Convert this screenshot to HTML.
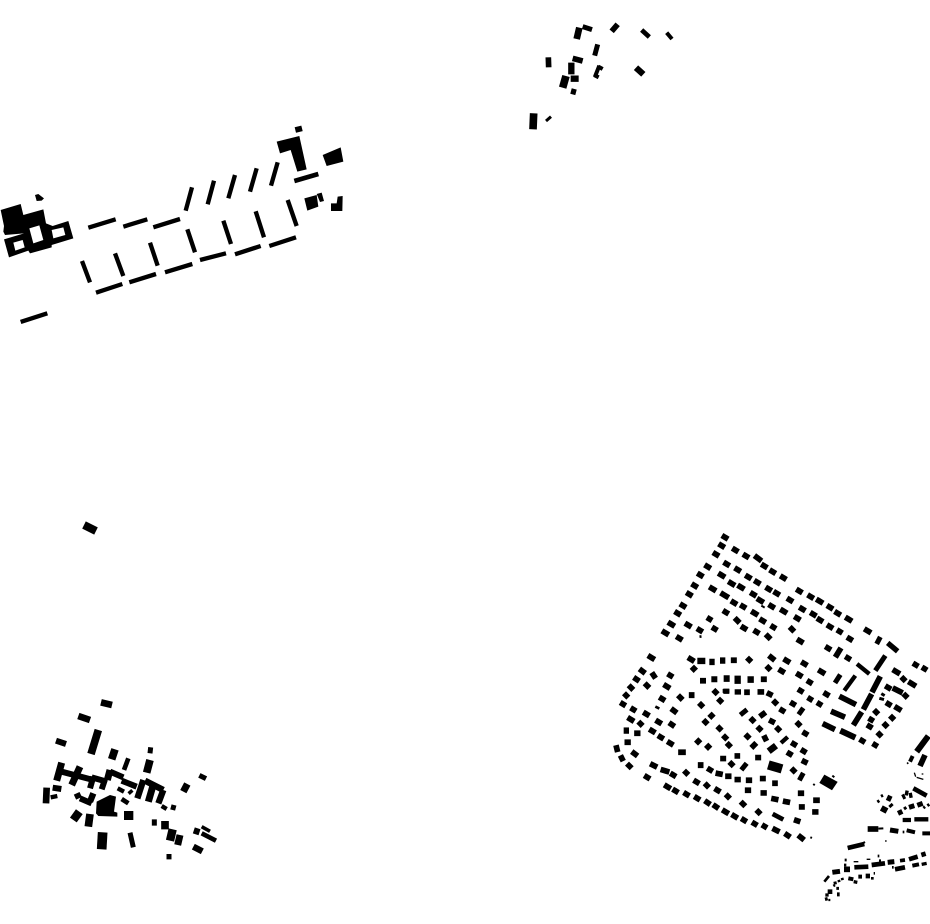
<!DOCTYPE html>
<html><head><meta charset="utf-8"><title>Map</title>
<style>html,body{margin:0;padding:0;background:#fff;width:930px;height:924px;overflow:hidden}svg{display:block}path{fill:none;stroke:#000}.f{fill:#000;stroke:none}.d{stroke-linecap:square;stroke-width:17}</style></head>
<body>
<svg width="930" height="924" viewBox="0 0 930 924" xmlns="http://www.w3.org/2000/svg">
<!-- top-left cluster -->
<g transform="translate(0 120) scale(.33333)">
<path class="f" fill-rule="evenodd" d="M2 270L62 252 70 285 130 268 138 310 158 318 205 303 220 355 155 375 155 382 90 400 85 392 27 412 12 358 72 340 15 345 10 335 12 318ZM40 368L68 360 74 382 46 392ZM88 325L118 316 130 360 100 370ZM155 330L190 322 196 345 160 355Z"/>
<path class="f" d="M105 225L115 222 132 235 125 242 110 243Z"/>
<path stroke-width="13" d="M265 323L347 298M370 320L442 298M460 322L540 297M288 518L367 492M388 487L468 462M495 457L577 432M62 606L142 580"/>
<path stroke-width="13" d="M246 423L270 487M345 400L370 468M450 368L473 437"/>
</g>
<g transform="translate(170 120) scale(.33333)">
<path stroke-width="13" d="M66 202L47 272M132 182L113 253M195 165L175 235M260 145L240 215M323 127L303 197M52 328L75 397M160 302L183 372M257 274L282 352M353 240L380 318M90 420L168 400M195 403L272 378M298 378L378 352"/>
<path stroke-width="14" d="M373 183L445 162"/>
<path stroke-width="17" d="M376 30L396 25"/>
<path class="f" d="M320 65L388 48 410 148 382 155 362 90 330 100ZM458 105L512 82 520 125 470 138ZM403 235L440 225 445 260 412 272ZM440 222L455 218 462 243 450 246ZM483 250L500 250 503 230 518 228 517 273 483 273Z"/>
</g>
<!-- top-middle cluster -->
<g transform="translate(520 15) scale(.33333)">
<path stroke-width="20" d="M178 38L170 72"/>
<path stroke-width="15" d="M188 35L216 44M233 88L224 122"/>
<path stroke-width="17" d="M293 28L275 49M85 127L86 157M158 130L188 138M153 228L168 232"/>
<path stroke-width="14" d="M365 45L388 66"/>
<path stroke-width="12" d="M440 53L456 72"/>
<path stroke-width="19" d="M154 143L154 178M152 191L176 191M348 158L370 178"/>
<path stroke-width="23" d="M138 183L128 218"/>
<path stroke-width="12" d="M238 152L225 185M235 155L248 162M222 180L236 187"/>
<path stroke-width="23" d="M41 295L39 343"/>
<path stroke-width="9" d="M78 318L93 305"/>
</g>
<!-- lone -->
<path stroke-width="8" d="M84 525L96 531"/>
<!-- bottom-left village -->
<g transform="translate(30 690) scale(.33333)">
<path stroke-width="20" d="M213 37L246 45"/>
<path stroke-width="20" d="M145 78L180 90M50 293L48 340"/>
<path stroke-width="18" d="M78 152L108 162"/>
<path stroke-width="23" d="M205 120L183 192M255 178L245 208M360 210L350 248M180 372L175 410M405 393L405 418"/>
<path stroke-width="14" d="M295 205L282 240M515 430L558 452"/>
<path stroke-width="15" d="M362 172L360 190M508 256L528 266M298 302L305 310M432 345L428 360M300 428L310 472M373 388L373 407M417 492L417 508"/>
<path stroke-width="21" d="M472 282L460 305M95 218L80 272M150 230L125 285M240 240L232 270M368 290L355 335M450 435L443 465"/>
<path stroke-width="18" d="M95 245L190 270M190 260L180 295M225 268L215 298M185 262L230 275M240 245L280 262M275 272L320 290M68 293L94 297M150 325L185 340M503 415L497 433"/>
<path stroke-width="19" d="M340 270L322 325M345 272L400 300M400 300L385 340M140 310L147 325M190 310L180 335M490 470L517 484"/>
<path stroke-width="13" d="M395 348L410 357M62 322L82 318M263 295L282 305"/>
<path stroke-width="14" d="M275 327L295 340"/>
<path stroke-width="11" d="M515 410L540 424"/>
<path stroke-width="25" d="M148 365L130 390M428 418L420 452"/>
<path stroke-width="28" d="M296 363L296 390"/>
<path stroke-width="29" d="M218 427L215 478"/>
<path class="f" d="M200 335L240 315 258 320 252 365 262 368 262 380 205 378 198 370Z"/>
</g>
<!-- estate: north block -->
<g transform="translate(649.33 524.6) scale(.33333)">
<path class="d" d="M225 37l4 2.4M215 62l4 2.4M198 88l4 2.4M173 125l4 2.4M151 150l4 2.4M134 182l4 2.4M118 208l4 2.4M99 242l4 2.4M83 265l4 2.4M63 297l6 3.6M45 323l6 3.6M88 340l4 2.4M256 75l4 2.4M288 93l4 2.4M322 98l8 6M343 123l4 2.4M368 140l4 2.4M400 158l4 2.4M230 117l4 2.4M263 134l4 2.4M295 156l4 2.4M322 172l4 2.4M356 192l4 2.4M380 205l4 2.4M214 150l6 3.6M244 175l6 3.6M272 186l6 3.6M310 208l4 2.4M330 226l6 3.6M365 244l4 2.4M187 191l6 3.6M221 209l10 6M252 233l4 2.4M280 245l3 1.8M313 264l6 3.6M338 287l4 2.4M371 307l2 1.2M228 262l3 1.8M262 286l3 3M282 309l4 2.4M320 321l3 1.8M355 335l3 3M114 300l5 3M150 316l3 1.8M195 312l2 1.2M180 283l1 .6"/>
<path stroke-width="6" d="M153 332L154 340"/><path stroke-width="6" d="M336 243L346 249"/>
</g>
<!-- estate: east block -->
<g transform="translate(779.33 589.6) scale(.33333)">
<path class="d" d="M58 3l4 2.4M92 20l4 2.4M118 33l6 3.6M150 52l4 2.4M173 70l4 2.4M205 87l6 3.6M30 30l4 2.4M10 63l6 3.6M67 57l4 2.4M52 85l4 2.4M100 73l4 2.4M120 90l4 2.4M150 110l4 2.4M180 125l2 1.2M210 147l3 1.8M37 118l2 2M60 153l5 3M262 122l6 3.6M145 175l3 1.8M205 205l2 1.2M20 212l5 3M73 221l4 2.4M5 243l4 2.4M58 255l4 2.4M124 245l6 3.6M90 277l2 1.2M372 268l1 1M325 293l3 1.8M378 318l1 1M408 225l2 1.2M435 237l1 .6M140 313l3 1.8M63 303l2 1.2M92 328l1 .6M120 343l1 .6M40 342l2 1.2M8 362l2 1.2M327 343l2 1.2M353 355l6 3.6M290 367l1 1M275 390l1 .6M338 384l1 1M270 410l2 1.2M318 406l1 1M248 453l2 1.2M300 434l1 1M287 466l1 .6M57 403l1 1M77 431l2 1.2M43 463l2 1.2M72 484l2 1.2M30 492l2 1.2"/>
<path stroke-width="15" d="M303 142L292 163"/>
<path stroke-width="16" d="M325 160L355 185"/>
<path stroke-width="17" d="M185 175L168 203M303 260L278 308M340 240L362 253M387 276L410 290M340 295L370 310M180 320L230 345M277 313L252 360M155 365L197 383M247 367L222 407M130 402L167 420"/>
<path stroke-width="15" d="M183 255L167 280M318 198L288 243M72 355L58 375"/>
<path stroke-width="13" d="M233 223L270 253M228 258L195 303M25 442L5 460"/>
<path stroke-width="18" d="M183 423L228 444"/>
<path stroke-width="9" d="M306 312L316 318M300 326L314 330"/>
</g>
<!-- estate: west block -->
<g transform="translate(609.33 649.6) scale(.33333)">
<path class="d" d="M123 22l6 3.6M243 28l5 3M254 57l-1 1M97 63l4 3M132 76l2 3M182 77l2 1.2M80 88l3 2M112 107l2 2M64 113l2 2M170 109l5 3M50 137l1 1M157 147l3 1.8M212 143l2 2M247 136l0 1M318 127l1 1M332 153l1 1M40 163l2 1.2M71 179l2 1.2M109 192l4 2.4M192 182l4 3M275 166l1 1M62 208l5 3M93 222l1 1M146 216l4 2.4M186 224l3 2M288 217l1 1M307 198l-1 1M83 251l2 0M127 243l4 2.4M330 236l1 1M153 262l3 1.8M347 263l1 1M54 278l2 0M181 280l4 2.4M267 275l-1 1M297 291l-1 1M358 286l1 1M22 295l1 4M74 311l4 3M37 325l1 2M215 308l6 0M341 327l1 0M59 348l2 2M130 346l6 3M162 362l10 3M190 375l3 1.8M230 369l1 1M274 346l0 1M301 360l2 1.2M327 372l5 1M356 380l2 0M112 382l3 1.8M172 410l5 3M197 423l3 1.8M230 433l3 1.8M260 396l3 1.8M292 407l1 1M323 421l3 1.8M262 445l3 1.8M355 440l1 1"/>
<path stroke-width="19" d="M264 34H288M300 37H316M332 33H348"/>
<path stroke-width="18" d="M281 85V102M315 80V98M352 77V97"/>
<path stroke-width="12" d="M340 124H360"/>
<path stroke-width="8" d="M138 171L150 177"/>
<path stroke-width="19" d="M43 243H59"/>
</g>
<!-- estate: centre -->
<g transform="translate(679.33 649.6) scale(.33333)">
<path class="d" d="M163 32l1 0M209 30l1 1M275 23l5 4M267 55l1 1M253 89l1 0M203 128l0 0M243 127l3 0M270 133l2 1M287 158l1 1M248 196l4 -3M219 211l1 1M277 215l2 1M240 237l1 1M296 238l1 1M204 260l1 1M257 265l1 2M222 289l3 -3M174 319l0 0M236 324l1 0M156 343l1 1"/>
<path stroke-width="19" d="M175 78V103M214 80V100"/>
<path stroke-width="16" d="M132 125H150M166 127H185"/>
<path stroke-width="15" d="M203 180L183 196M202 341L186 361"/>
<path stroke-width="20" d="M268 305L290 288"/>
<path stroke-width="28" d="M267 346L308 358"/>
</g>
<!-- estate: south -->
<g transform="translate(639.33 749.6) scale(.33333)">
<path class="d" d="M294 90l2 0M328 92l2 0M370 87l1 0M407 101l0 0M325 122l2 0M372 130l2 0M404 148l5 1M439 156l5 1M484 131l2 0M530 152l3 0M487 172l1 0M527 187l2 0M310 162l2 2M357 187l1 1M472 213l3 1M407 240l6 3M443 256l3 2M483 262l5 4M375 230l1 .6M345 222l2 1.2M313 211l2 1.2M284 199l4 2.4M256 185l5 3M228 170l3 2M203 158l3 2M462 62l1 1M495 36l2 1"/>
<path stroke-width="15" d="M492 70L480 92"/>
<path stroke-width="14" d="M400 193L432 210"/>
<path class="f" d="M555 75L595 97 578 122 540 100Z"/>
<path stroke-width="6" d="M513 263L518 265M522 107L526 103M579 78L585 83"/>
</g>
<!-- far SE fragments -->
<g transform="translate(815 730) scale(.33333)">
<path stroke-width="18" d="M340 18L305 65"/>
<path stroke-width="12" d="M293 78L285 95"/>
<path stroke-width="5" d="M276 101L280 98"/>
<path stroke-width="17" d="M330 75L315 108"/>
<path stroke-width="4" d="M298 128L302 140M305 142L325 148M320 132L325 132"/>
<path stroke-width="14" d="M295 175L335 197"/>
<path stroke-width="15" d="M262 202L270 198M270 188L280 190M282 197L292 195"/>
<path stroke-width="17" d="M216 202L229 208"/>
<path stroke-width="18" d="M199 234L216 243"/>
<path stroke-width="9" d="M223 231L233 222M198 199L204 196M187 216L193 212M267 237L274 232M325 234L330 230M337 227L343 223"/>
<path stroke-width="15" d="M249 250L262 244M282 232L298 227M307 226L323 220"/>
<path stroke-width="13" d="M263 270L288 270M298 268L340 268"/>
<path stroke-width="17" d="M158 297L190 297"/>
<path stroke-width="6" d="M190 296L205 295"/>
<path stroke-width="15" d="M225 300L250 304"/>
<path stroke-width="8" d="M263 306L268 306"/>
<path stroke-width="12" d="M275 301L300 307M322 310L345 310"/>
<path stroke-width="4" d="M210 333L215 333"/>
<path stroke-width="14" d="M98 354L148 342"/>
<path stroke-width="6" d="M143 340L150 336"/>
<path stroke-width="15" d="M52 427L75 424M218 397L238 395"/>
<path stroke-width="17" d="M87 418H105"/>
<path stroke-width="14" d="M118 412L160 410M170 405L210 400M282 388L308 380M319 375L332 371M240 418L270 412"/>
<path stroke-width="11" d="M255 392L270 390"/>
<path stroke-width="8" d="M87 405L94 405M89 390L95 390M188 378L193 378M192 392L198 392M231 412L236 412"/>
<path stroke-width="4" d="M116 395L130 395M155 388L166 388"/>
<path stroke-width="12" d="M292 407L312 403"/>
<path stroke-width="10" d="M320 403L335 400M116 455L127 457M30 508L38 506M31 495L41 495"/>
<path stroke-width="8" d="M28 455L42 438M168 445L176 445M176 430L180 430M55 468L60 465"/>
<path stroke-width="12" d="M100 445L115 448M130 440L141 440M66 493L74 493"/>
<path stroke-width="14" d="M152 438L165 438M38 485L52 485"/>
<path stroke-width="9" d="M56 460L65 458M64 475L72 475"/>
<path stroke-width="7" d="M68 454L76 452M78 448L86 446M40 510L46 510"/>
</g>
</svg>
</body></html>
